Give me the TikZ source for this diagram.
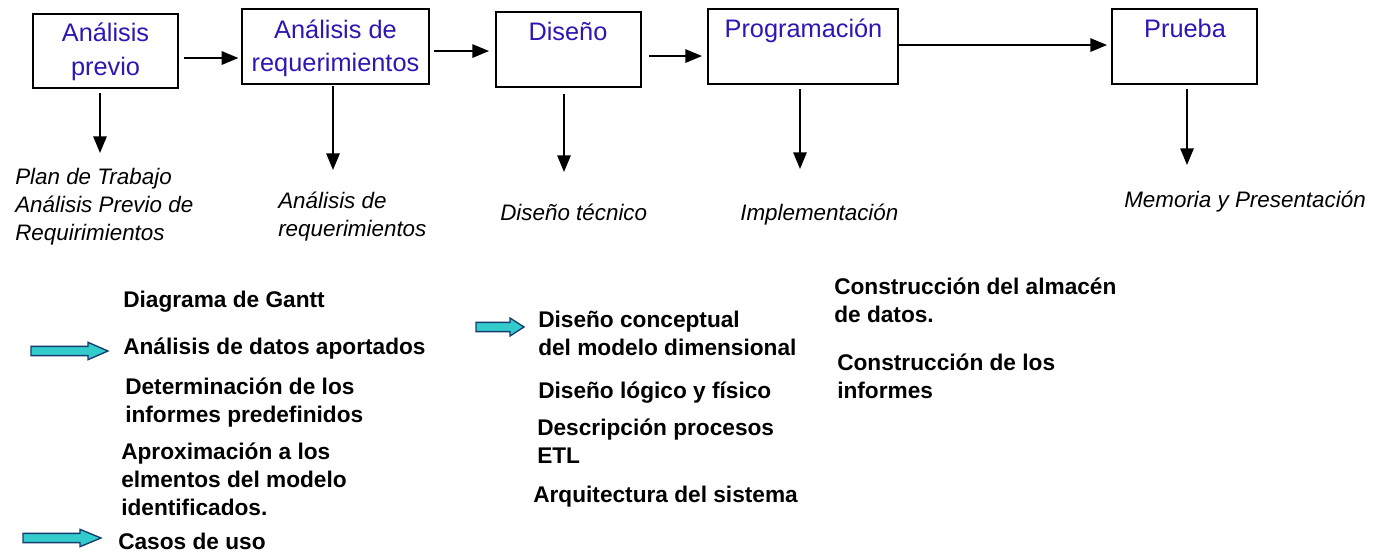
\documentclass[tikz,border=0pt]{standalone}
\usepackage{fontspec}
\setmainfont{Liberation Sans}
\usetikzlibrary{arrows.meta}

\definecolor{stageblue}{RGB}{45,22,180}
\definecolor{hintfill}{RGB}{51,204,204}
\definecolor{hintline}{RGB}{20,60,110}

\tikzset{
  stage/.style={draw, line width=1.4pt, inner sep=0pt},
  stagetext/.style={anchor=north, inner sep=0pt, align=center, text=stageblue, font=\fontsize{19}{25}\selectfont},
  output/.style={anchor=north west, inner sep=0pt, align=left, font=\fontsize{16.8}{21}\selectfont\itshape},
  task/.style={anchor=north west, inner sep=0pt, align=left, font=\fontsize{17}{21}\selectfont\bfseries},
  flow/.style={-{Triangle[length=12.5pt,width=10pt]}, line width=1.4pt},
  pics/hint/.style n args={3}{code={
    \draw[hintline, fill=hintfill, line width=1pt] (0,-4.6) -- (#1,-4.6) -- (#1,-#3) -- (#2,0) -- (#1,#3) -- (#1,4.6) -- (0,4.6) -- cycle;
  }}
}

\begin{document}
\begin{tikzpicture}[x=0.75pt,y=0.75pt,yscale=-1]
\useasboundingbox (0,0) rectangle (1373,553);

% stages
\node[stage, minimum width=108.75pt, minimum height=55.5pt] (prev) at (105.5,51) {};
\node[stage, minimum width=140.25pt, minimum height=56.25pt] (reqs) at (335.5,46.5) {};
\node[stage, minimum width=108.75pt, minimum height=56.25pt] (dsgn) at (568.5,49.5) {};
\node[stage, minimum width=142.5pt, minimum height=56.25pt] (prog) at (803,46.5) {};
\node[stage, minimum width=108.75pt, minimum height=56.25pt] (test) at (1184.5,46.5) {};

\node[stagetext] (prev-t) at (105.5,23) {Análisis\\previo};
\node[stagetext] (reqs-t) at (335.5,19.5) {Análisis de\\requerimientos};
\node[stagetext] (dsgn-t) at (568,22) {Diseño};
\node[stagetext] (prog-t) at (803.5,19) {Programación};
\node[stagetext] (test-t) at (1185,19) {Prueba};

% flow between stages
\draw[flow, shorten <=3.75pt, shorten >=2pt] ([yshift=5.25pt]prev.east) -- ([yshift=5.25pt]prev.east -| reqs.west);
\draw[flow, shorten <=3pt, shorten >=4.5pt] ([yshift=3.4pt]reqs.east) -- ([yshift=3.4pt]reqs.east -| dsgn.west);
\draw[flow, shorten <=5.25pt, shorten >=3.75pt] ([yshift=4.9pt]dsgn.east) -- ([yshift=4.9pt]dsgn.east -| prog.west);
\draw[flow, shorten >=3pt] ([yshift=-1.1pt]prog.east) -- ([yshift=-1.1pt]prog.east -| test.west);

% outputs
\node[output] (prev-out) at (15,168) {Plan de Trabajo\\Análisis Previo de\\Requirimientos};
\node[output] (reqs-out) at (278,192) {Análisis de\\requerimientos};
\node[output] (dsgn-out) at (500,204) {Diseño técnico};
\node[output] (prog-out) at (740,204) {Implementación};
\node[output] (test-out) at (1124,191) {Memoria y Presentación};

\coordinate (prev-o) at (100,153);
\coordinate (reqs-o) at (333,170);
\coordinate (dsgn-o) at (564,172);
\coordinate (prog-o) at (800,169);
\coordinate (test-o) at (1187,165);
\draw[flow, shorten <=3pt] (prev.south -| prev-o) -- (prev-o);
\draw[flow, shorten <=0.75pt] (reqs.south -| reqs-o) -- (reqs-o);
\draw[flow, shorten <=4.5pt] (dsgn.south -| dsgn-o) -- (dsgn-o);
\draw[flow, shorten <=3pt] (prog.south -| prog-o) -- (prog-o);
\draw[flow, shorten <=3pt] (test.south -| test-o) -- (test-o);

% tasks
\node[task] (gantt) at (123,291) {Diagrama de Gantt};
\node[task] (datos) at (123,338) {Análisis de datos aportados};
\node[task] (informes) at (125,378) {Determinación de los\\informes predefinidos};
\node[task] (modelo) at (121,443) {Aproximación a los\\elmentos del modelo\\identificados.};
\node[task] (casos) at (118,533) {Casos de uso};
\node[task] (conceptual) at (538,311) {Diseño conceptual\\del modelo dimensional};
\node[task] (logico) at (538,382) {Diseño lógico y físico};
\node[task] (etl) at (537,419) {Descripción procesos\\ETL};
\node[task] (arq) at (533,486) {Arquitectura del sistema};
\node[task] (almacen) at (834,278) {Construcción del almacén\\de datos.};
\node[task] (inf) at (837,354) {Construcción de los\\informes};

% hints
\pic at (31,351) {hint={57}{77}{8.7}};
\pic at (23,538) {hint={57}{78}{8.7}};
\pic at (476,327) {hint={34}{48}{9}};

\end{tikzpicture}
\end{document}
